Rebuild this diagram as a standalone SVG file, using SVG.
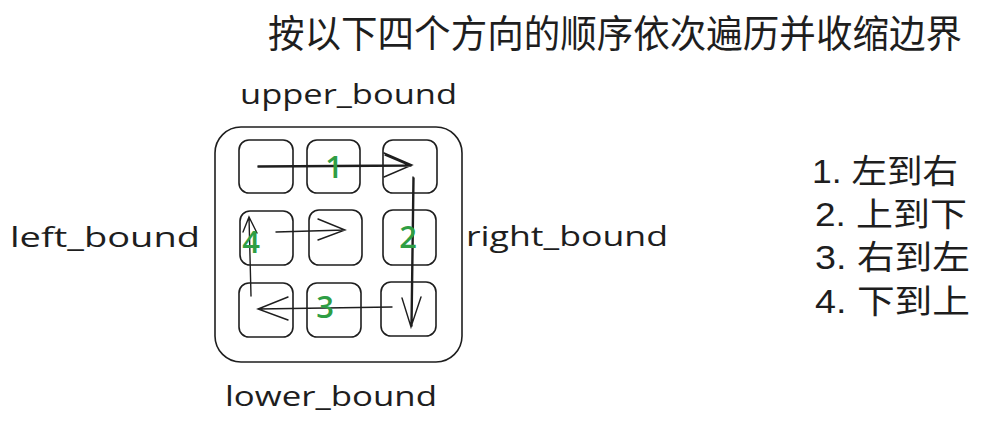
<svg xmlns="http://www.w3.org/2000/svg" width="985" height="431" viewBox="0 0 985 431">
<style>
.box{fill:none;stroke:#1e1e1e;stroke-width:1.6;stroke-linejoin:round}
.ln{fill:none;stroke:#1e1e1e;stroke-width:1.4;stroke-linecap:round}
.lbl{font-family:"Open Sans","Liberation Sans",sans-serif;font-size:27px;fill:#1e1e1e}
.num{font-family:"Open Sans","Liberation Sans",sans-serif;font-size:31px;font-weight:600;fill:#2f9e44}
.cjk{font-family:"Liberation Sans","Noto Sans CJK SC",sans-serif;fill:#1e1e1e}
</style>
<rect width="985" height="431" fill="#ffffff"/>
<g id="title"><text class="cjk" x="615" y="47" font-size="38" text-anchor="middle" textLength="694" lengthAdjust="spacingAndGlyphs">按以下四个方向的顺序依次遍历并收缩边界</text></g>
<g id="outer"><rect class="box" x="215" y="127" width="247" height="235" rx="26"/></g>
<g id="cell-1-1"><rect class="box" x="239" y="140" width="54" height="53" rx="10"/></g>
<g id="cell-1-2"><rect class="box" x="307" y="140" width="53" height="53" rx="10"/></g>
<g id="cell-1-3"><rect class="box" x="383" y="140" width="54" height="53" rx="10"/></g>
<g id="cell-2-1"><rect class="box" x="240" y="211" width="53" height="54" rx="10"/></g>
<g id="cell-2-2"><rect class="box" x="309" y="210" width="53" height="55" rx="10"/></g>
<g id="cell-2-3"><rect class="box" x="383" y="210" width="53" height="55" rx="10"/></g>
<g id="cell-3-1"><rect class="box" x="239" y="283" width="54" height="54" rx="10"/></g>
<g id="cell-3-2"><rect class="box" x="307" y="283" width="54" height="54" rx="10"/></g>
<g id="cell-3-3"><rect class="box" x="381" y="282" width="55" height="54" rx="10"/></g>
<g id="connectors">
<path class="ln" d="M258 166 L412 165 M258 167 L411 166 M384 153 L412 165 L384 177 M385 155 L411 166"/>
<path class="ln" d="M413 177 L411 327 M414 178 L412 326 M402 298 L411 327 L421 297"/>
<path class="ln" d="M392 307 L258 309 M288 297 L258 309 L288 320"/>
<path class="ln" d="M251 296 L249 217 M243 232 L249 217 L257 233"/>
<path class="ln" d="M276 232 L345 230 M318 219 L345 230 L318 240"/>
</g>
<g id="numbers">
<text class="num" x="334" y="178" text-anchor="middle">1</text>
<text class="num" x="408" y="248" text-anchor="middle">2</text>
<text class="num" x="325" y="318" text-anchor="middle">3</text>
<text class="num" x="251" y="253" text-anchor="middle">4</text>
</g>
<g id="upper"><text class="lbl" x="240" y="104" textLength="217" lengthAdjust="spacingAndGlyphs">upper_bound</text></g>
<g id="left"><text class="lbl" x="10" y="247" textLength="190" lengthAdjust="spacingAndGlyphs">left_bound</text></g>
<g id="right"><text class="lbl" x="466" y="246" textLength="202" lengthAdjust="spacingAndGlyphs">right_bound</text></g>
<g id="lower"><text class="lbl" x="225" y="406" textLength="212" lengthAdjust="spacingAndGlyphs">lower_bound</text></g>
<g id="legend">
<text class="cjk" x="812" y="183" font-size="33" textLength="146" lengthAdjust="spacingAndGlyphs">1. 左到右</text>
<text class="cjk" x="815" y="226" font-size="33" textLength="152" lengthAdjust="spacingAndGlyphs">2. 上到下</text>
<text class="cjk" x="815" y="269" font-size="33" textLength="155" lengthAdjust="spacingAndGlyphs">3. 右到左</text>
<text class="cjk" x="815" y="313" font-size="33" textLength="155" lengthAdjust="spacingAndGlyphs">4. 下到上</text>
</g>
</svg>
